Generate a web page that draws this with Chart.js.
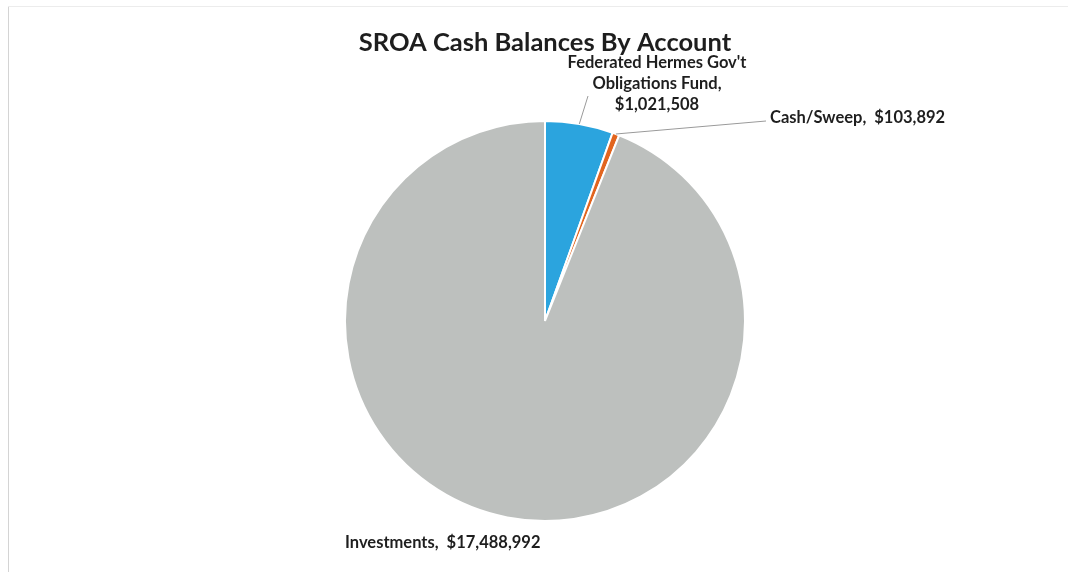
<!DOCTYPE html>
<html>
<head>
<meta charset="utf-8">
<script src="https://cdn.jsdelivr.net/npm/chart.js@4.4.1/dist/chart.umd.min.js"></script>
<style>
  html, body { margin: 0; padding: 0; background: #ffffff; }
  #wrap { width: 1068px; height: 572px; position: relative; }
</style>
</head>
<body>
<div id="wrap"><canvas id="chart" width="1068" height="572"></canvas></div>
<script>
// Account balances
const accounts = ["Federated Hermes Gov't Obligations Fund", "Cash/Sweep", "Investments"];
const balances = [1021508, 103892, 17488992];
const sliceColors = ["#2ba4de", "#e2651f", "#bdc0be"];
const chartTitle = "SROA Cash Balances By Account";

// How each account name is broken over lines in its callout
const nameLines = [
  ["Federated Hermes Gov't", "Obligations Fund,"],
  ["Cash/Sweep,"],
  ["Investments,"]
];

const money = v => "$" + v.toLocaleString("en-US");

// Callout placement: text anchor and the point the leader line reaches
const callouts = [
  { x: 657, y: 63, align: "center", stacked: true, lineTo: { x: 588, y: 96 } },
  { x: 770, y: 118, align: "left", stacked: false, lineTo: { x: 766, y: 121 } },
  { x: 345, y: 543, align: "left", stacked: false, lineTo: null }
];

const labelFont = "bold 16.5px Lato, 'Liberation Sans', sans-serif";

const framePlugin = {
  id: "frame",
  beforeDraw(chart) {
    const ctx = chart.ctx;
    ctx.save();
    ctx.strokeStyle = "#d4d4d4";
    ctx.lineWidth = 1;
    ctx.beginPath();
    ctx.moveTo(8.5, 6);
    ctx.lineTo(8.5, 572);
    ctx.stroke();
    ctx.strokeStyle = "#ececec";
    ctx.beginPath();
    ctx.moveTo(8, 6.5);
    ctx.lineTo(1068, 6.5);
    ctx.stroke();
    ctx.restore();
  }
};

const calloutPlugin = {
  id: "callouts",
  afterDatasetsDraw(chart) {
    const ctx = chart.ctx;
    const meta = chart.getDatasetMeta(0);
    ctx.save();
    meta.data.forEach((arc, i) => {
      const c = callouts[i];
      const props = arc.getProps(["x", "y", "startAngle", "endAngle", "outerRadius"], true);
      const mid = (props.startAngle + props.endAngle) / 2;
      const ex = props.x + Math.cos(mid) * props.outerRadius;
      const ey = props.y + Math.sin(mid) * props.outerRadius;

      if (c.lineTo) {
        ctx.strokeStyle = "#9a9a9a";
        ctx.lineWidth = 1;
        ctx.beginPath();
        ctx.moveTo(ex, ey);
        ctx.lineTo(c.lineTo.x, c.lineTo.y);
        ctx.stroke();
      }

      ctx.font = labelFont;
      ctx.fillStyle = "#1e1e1e";
      ctx.textBaseline = "middle";
      ctx.textAlign = c.align;
      const value = money(chart.data.datasets[0].data[i]);
      if (c.stacked) {
        const lines = nameLines[i].concat([value]);
        lines.forEach((t, k) => ctx.fillText(t, c.x, c.y + k * 21));
      } else {
        ctx.fillText(nameLines[i].join(" ") + "  " + value, c.x, c.y);
      }
    });
    ctx.restore();
  }
};

new Chart(document.getElementById("chart"), {
  type: "pie",
  data: {
    labels: accounts,
    datasets: [{
      data: balances,
      backgroundColor: sliceColors,
      borderColor: "#ffffff",
      borderWidth: 2
    }]
  },
  options: {
    responsive: false,
    animation: false,
    layout: { padding: { top: 19, left: 344, right: 322, bottom: 49 } },
    plugins: {
      legend: { display: false },
      tooltip: { enabled: false },
      title: {
        display: true,
        text: chartTitle,
        color: "#1e1e1e",
        font: { family: "Lato, 'Liberation Sans', sans-serif", size: 25.5, weight: "bold", lineHeight: 1.2 },
        padding: { top: 8, bottom: 61.4 }
      }
    }
  },
  plugins: [framePlugin, calloutPlugin]
});
</script>
</body>
</html>
